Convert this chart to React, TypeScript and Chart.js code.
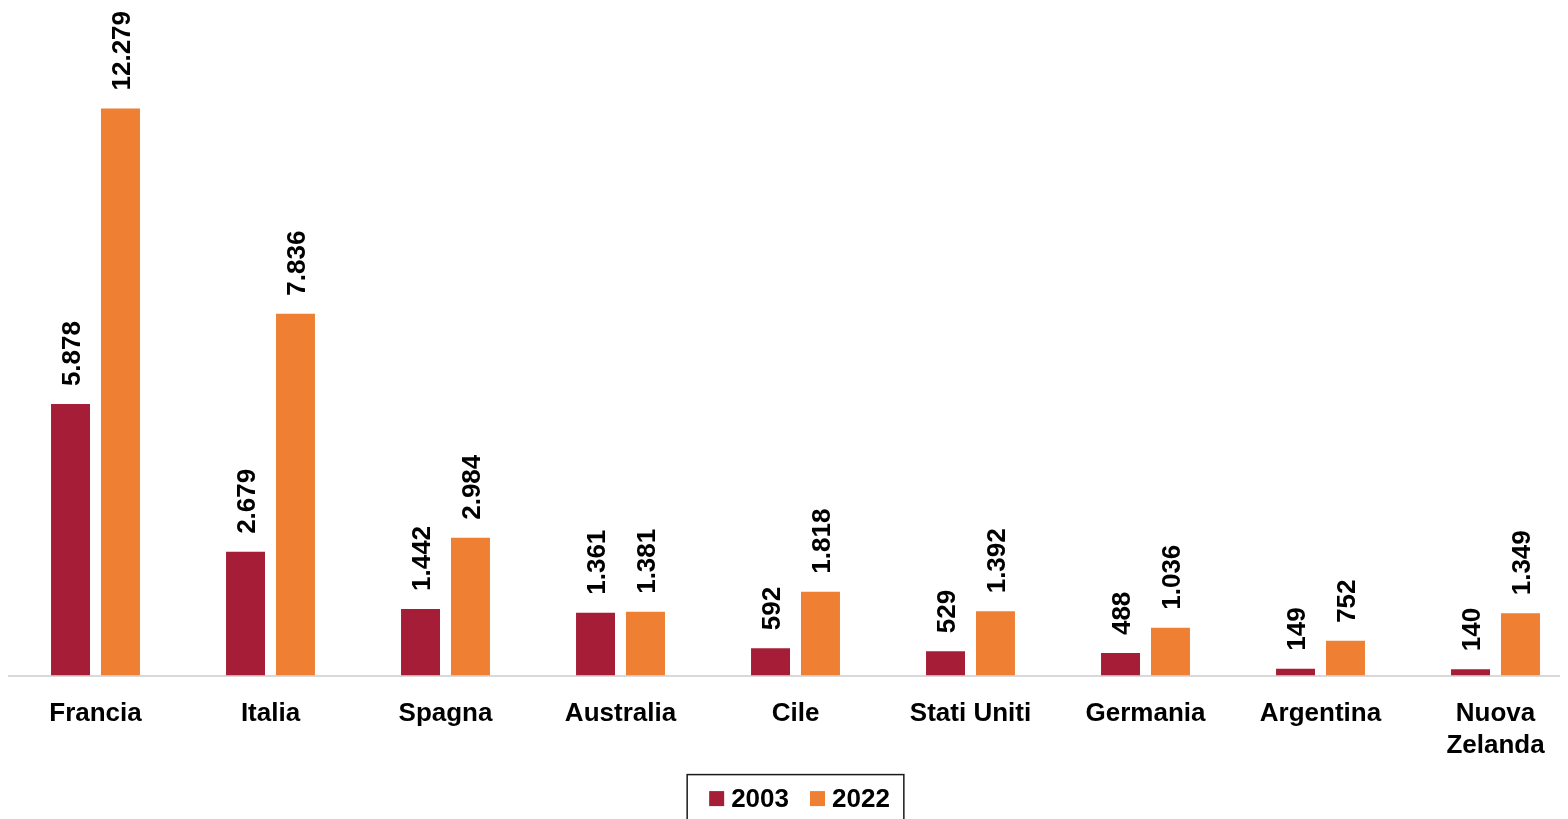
import React, { useEffect, useRef } from "react";
import { Chart, registerables } from "chart.js";

Chart.register(...registerables);

const categories: (string | string[])[] = [
  "Francia",
  "Italia",
  "Spagna",
  "Australia",
  "Cile",
  "Stati Uniti",
  "Germania",
  "Argentina",
  ["Nuova", "Zelanda"],
];
const seriesLabels = ["2003", "2022"];
const values2003 = [5878, 2679, 1442, 1361, 592, 529, 488, 149, 140];
const values2022 = [12279, 7836, 2984, 1381, 1818, 1392, 1036, 752, 1349];
const colors = ["#A51D37", "#EE7F33"];

const FONT = "'Liberation Sans', Arial, sans-serif";

function fmt(v: number): string {
  return String(Math.round(v)).replace(/\B(?=(\d{3})+(?!\d))/g, ".");
}

const valueLabelPlugin = {
  id: "valueLabels",
  afterDatasetsDraw(chart: any) {
    const ctx = chart.ctx;
    ctx.save();
    ctx.font = `bold 26px ${FONT}`;
    ctx.fillStyle = "#000";
    ctx.textAlign = "left";
    ctx.textBaseline = "middle";
    chart.data.datasets.forEach((ds: any, di: number) => {
      const meta = chart.getDatasetMeta(di);
      meta.data.forEach((bar: any, i: number) => {
        const txt = fmt(ds.data[i]);
        ctx.save();
        ctx.translate(bar.x + 2, bar.y - 18);
        ctx.rotate(-Math.PI / 2);
        ctx.fillText(txt, 0, 0);
        ctx.restore();
      });
    });
    ctx.restore();
  },
};

const boxLegendPlugin = {
  id: "boxLegend",
  afterDraw(chart: any) {
    const ctx = chart.ctx;
    const ca = chart.chartArea;
    ctx.save();
    ctx.font = `bold 26px ${FONT}`;
    const labels = chart.data.datasets.map((d: any) => d.label);
    const widths = labels.map((l: string) => ctx.measureText(l).width);
    const padL = 22, padR = 14, marker = 15, gapM = 7, gapItem = 21;
    let total = padL + padR;
    widths.forEach((w: number, i: number) => {
      total += marker + gapM + w + (i > 0 ? gapItem : 0);
    });
    const left = chart.width / 2 - total / 2;
    const top = ca.bottom + 99;
    ctx.strokeStyle = "#1a1a1a";
    ctx.lineWidth = 1.5;
    ctx.strokeRect(left, top, total, 70);
    let x = left + padL;
    const cy = top + 24;
    ctx.textBaseline = "middle";
    ctx.textAlign = "left";
    chart.data.datasets.forEach((d: any, i: number) => {
      if (i > 0) x += gapItem;
      ctx.fillStyle = d.backgroundColor;
      ctx.fillRect(x, cy - marker / 2, marker, marker);
      x += marker + gapM;
      ctx.fillStyle = "#000";
      ctx.fillText(labels[i], x, cy + 1);
      x += widths[i];
    });
    ctx.restore();
  },
};

export default function App() {
  const ref = useRef<HTMLCanvasElement | null>(null);
  useEffect(() => {
    if (!ref.current) return;
    const chart = new Chart(ref.current, {
      type: "bar",
      data: {
        labels: categories,
        datasets: [
          {
            label: seriesLabels[0],
            data: values2003,
            backgroundColor: colors[0],
            categoryPercentage: 0.571,
            barPercentage: 0.78,
          },
          {
            label: seriesLabels[1],
            data: values2022,
            backgroundColor: colors[1],
            categoryPercentage: 0.571,
            barPercentage: 0.78,
          },
        ],
      },
      options: {
        responsive: false,
        animation: false,
        layout: { padding: { top: 21, bottom: 54, left: 0, right: 0 } },
        plugins: {
          legend: { display: false },
          tooltip: { enabled: false },
        },
        scales: {
          x: {
            grid: { display: false, drawTicks: false },
            border: { display: true, color: "#d9d9d9", width: 2 },
            ticks: {
              color: "#000",
              font: { family: FONT, size: 26, weight: "bold" },
              padding: 23,
              maxRotation: 0,
              autoSkip: false,
            },
          },
          y: {
            display: false,
            min: 0,
            max: 14000,
          },
        },
      },
      plugins: [valueLabelPlugin, boxLegendPlugin],
    });
    return () => chart.destroy();
  }, []);
  return (
    <div style={{ width: 1560, height: 811, overflow: "hidden" }}>
      <canvas ref={ref} width={1575} height={830} style={{ display: "block" }} />
    </div>
  );
}
